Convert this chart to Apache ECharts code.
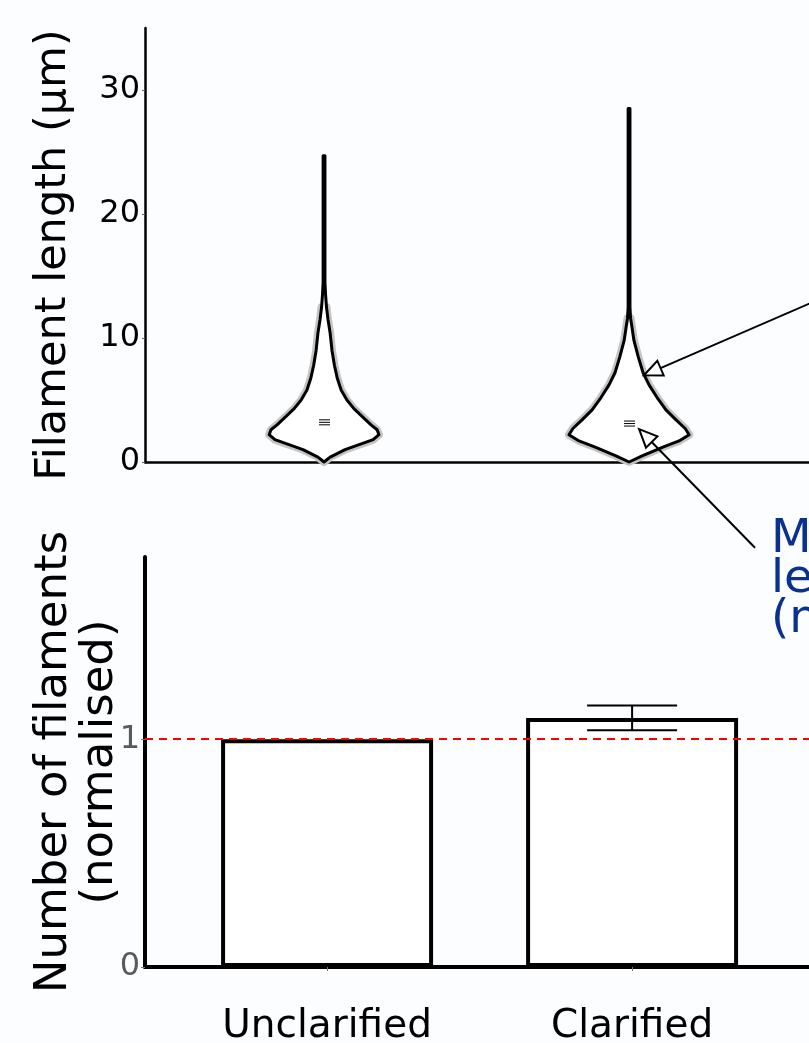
<!DOCTYPE html>
<html><head><meta charset="utf-8">
<script src="https://cdn.jsdelivr.net/npm/echarts@6/dist/echarts.min.js"></script>
<style>html,body{margin:0;padding:0;background:#fcfdff}#c{width:809px;height:1043px}</style>
</head><body><div id="c"></div>
<script>
// ---- data ----
const categories = ['Unclarified', 'Clarified'];
const categoryPos = [1, 2];
const lengthTicks = [0, 10, 20, 30];
const countTicks = [0, 1];
// violin profiles: filament length (µm) and half-width (density, x-axis units)
const violin1Len   = [0, 0.4, 1.0, 1.4, 1.8, 2.2, 2.6, 3.0, 3.6, 4.3, 5.0, 5.8, 6.8, 7.8, 9.0, 10.4, 11.5, 12.5, 13.5, 14.5, 24.7];
const violin1Width = [0, 0.020, 0.069, 0.115, 0.161, 0.180, 0.174, 0.154, 0.128, 0.098, 0.075, 0.056, 0.043, 0.034, 0.026, 0.020, 0.013, 0.008, 0.005, 0.003, 0.003];
const violin2Len   = [0, 0.5, 1.2, 1.7, 2.2, 2.7, 3.4, 4.2, 5.2, 6.2, 7.2, 8.5, 9.8, 10.8, 11.6, 12.5, 28.5];
const violin2Width = [0, 0.043, 0.111, 0.164, 0.197, 0.184, 0.154, 0.121, 0.092, 0.066, 0.046, 0.030, 0.016, 0.010, 0.005, 0.003, 0.003];
const medianLength = [3.2, 3.1];
const barValues = [1.0, 1.093];
const errLow  = [null, 1.039];
const errHigh = [null, 1.148];
const referenceLevel = 1;
// annotation arrows (tail x, tail y, tip x, tip y) in top-chart data coords
const arrows = [[2.659, 13.5, 2.049, 7.0], [2.413, -6.92, 2.033, 2.65]];

const violinLengths = [violin1Len, violin2Len];
const violinWidths = [violin1Width, violin2Width];
const haloMaxLength = [13, 12];
const FONT = 'DejaVu Sans';

function renderViolin(params, api) {
  const i = params.dataIndex;
  const pos = categoryPos[i];
  const lens = violinLengths[i], wid = violinWidths[i];
  const right = lens.map((l, k) => api.coord([pos + wid[k], l]));
  const left = lens.map((l, k) => api.coord([pos - wid[k], l])).reverse();
  const outline = right.concat(left);
  const hk = lens.map((l, k) => k).filter(k => lens[k] <= haloMaxLength[i]);
  const hr = hk.map(k => api.coord([pos + wid[k], lens[k]]));
  const hl = hk.map(k => api.coord([pos - wid[k], lens[k]])).reverse();
  const c = api.coord([pos, medianLength[i]]);
  const children = [
    {type: 'polygon', shape: {points: hr.concat(hl)}, style: {fill: 'none', stroke: '#c4c4c4', lineWidth: 8, lineJoin: 'round'}},
    {type: 'polygon', shape: {points: outline}, style: {fill: '#fff', stroke: '#000', lineWidth: 3, lineJoin: 'round'}}
  ];
  [-2.5, 0, 2.5].forEach(d => children.push({
    type: 'line', shape: {x1: c[0] - 5, y1: c[1] + d, x2: c[0] + 6, y2: c[1] + d},
    style: {stroke: '#000', lineWidth: 1}
  }));
  return {type: 'group', children};
}

function renderError(params, api) {
  const x = api.value(0);
  const lo = api.coord([x, api.value(1)]);
  const hi = api.coord([x, api.value(2)]);
  const w = 45;
  return {type: 'group', children: [
    {type: 'line', shape: {x1: lo[0], y1: lo[1], x2: hi[0], y2: hi[1]}, style: {stroke: '#000', lineWidth: 2}},
    {type: 'line', shape: {x1: lo[0] - w, y1: lo[1], x2: lo[0] + w, y2: lo[1]}, style: {stroke: '#000', lineWidth: 2}},
    {type: 'line', shape: {x1: hi[0] - w, y1: hi[1], x2: hi[0] + w, y2: hi[1]}, style: {stroke: '#000', lineWidth: 2}}
  ]};
}

function renderArrow(params, api) {
  const a = api.coord([api.value(0), api.value(1)]);
  const b = api.coord([api.value(2), api.value(3)]);
  const dx = b[0] - a[0], dy = b[1] - a[1], L = Math.hypot(dx, dy);
  const ux = dx / L, uy = dy / L, hl = 18, hw = 8;
  const base = [b[0] - ux * hl, b[1] - uy * hl];
  const p1 = [base[0] - uy * hw, base[1] + ux * hw];
  const p2 = [base[0] + uy * hw, base[1] - ux * hw];
  return {type: 'group', children: [
    {type: 'line', shape: {x1: a[0], y1: a[1], x2: base[0], y2: base[1]}, style: {stroke: '#000', lineWidth: 2}},
    {type: 'polygon', shape: {points: [b, p1, p2]}, style: {fill: '#fff', stroke: '#000', lineWidth: 2}}
  ]};
}

const chart = echarts.init(document.getElementById('c'));
chart.setOption({
  backgroundColor: '#fcfdff',
  animation: false,
  grid: [
    {left: 145, top: 28, right: 0, height: 434, outerBoundsMode: 'none'},
    {left: 145, top: 557, right: 0, height: 410, outerBoundsMode: 'none'}
  ],
  xAxis: [
    {gridIndex: 0, type: 'value', min: 0.413, max: 2.590,
      axisLine: {lineStyle: {color: '#000', width: 2.5}}, axisTick: {show: false}, axisLabel: {show: false}, splitLine: {show: false}},
    {gridIndex: 1, type: 'value', min: 0.403, max: 2.580,
      axisLine: {lineStyle: {color: '#000', width: 4}},
      axisTick: {show: true, customValues: categoryPos, length: 4, lineStyle: {color: '#777', width: 1}},
      axisLabel: {customValues: categoryPos, formatter: v => categories[categoryPos.indexOf(v)] || '',
        fontSize: 39, fontFamily: FONT, color: '#000', margin: 40},
      splitLine: {show: false}}
  ],
  yAxis: [
    {gridIndex: 0, type: 'value', min: 0, max: 35,
      axisLine: {show: true, lineStyle: {color: '#000', width: 2.5}},
      axisTick: {show: true, customValues: lengthTicks, length: 3, lineStyle: {color: '#666', width: 1}},
      axisLabel: {customValues: lengthTicks, fontSize: 32, fontFamily: FONT, color: '#000', margin: 5},
      splitLine: {show: false},
      name: 'Filament length (μm)', nameLocation: 'middle', nameRotate: 90, nameGap: 70, nameMoveOverlap: false,
      nameTextStyle: {fontSize: 43, fontFamily: FONT, color: '#000', padding: [0, 20, 0, 0]}},
    {gridIndex: 1, type: 'value', min: 0, max: 1.8,
      axisLine: {show: true, lineStyle: {color: '#000', width: 4}},
      axisTick: {show: true, customValues: countTicks, length: 4, lineStyle: {color: '#777', width: 1}},
      axisLabel: {customValues: countTicks, fontSize: 32, fontFamily: FONT, color: '#5a5a5a', margin: 5},
      splitLine: {show: false},
      name: 'Number of filaments\n(normalised)', nameLocation: 'middle', nameRotate: 90, nameGap: 22, nameMoveOverlap: false,
      nameTextStyle: {fontSize: 45, lineHeight: 46, fontFamily: FONT, color: '#000'}}
  ],
  series: [
    {type: 'custom', xAxisIndex: 0, yAxisIndex: 0, renderItem: renderViolin,
      data: categoryPos.map((p, i) => [p, medianLength[i]]), encode: {x: 0, y: 1}, z: 3},
    {type: 'custom', xAxisIndex: 0, yAxisIndex: 0, renderItem: renderArrow,
      data: arrows, encode: {x: [0, 2], y: [1, 3]}, z: 4, clip: false},
    {type: 'bar', xAxisIndex: 1, yAxisIndex: 1, barWidth: 212,
      data: categoryPos.map((p, i) => [p, barValues[i]]),
      itemStyle: {color: '#fff', borderColor: '#000', borderWidth: 4},
      markLine: {silent: true, symbol: 'none', label: {show: false},
        lineStyle: {color: '#ff0000', type: [8, 6], width: 2},
        data: [{yAxis: referenceLevel}]}},
    {type: 'custom', xAxisIndex: 1, yAxisIndex: 1, renderItem: renderError, z: 5,
      data: categoryPos.map((p, i) => [p, errLow[i], errHigh[i]]).filter(d => d[1] != null),
      encode: {x: 0, y: [1, 2]}}
  ],
  graphic: [
    {type: 'text', left: 771, top: 516, z: 10,
      style: {text: 'Median\nlength\n(nm)', font: '47px "DejaVu Sans"', fill: '#0b318f', lineHeight: 40}}
  ]
});
</script></body></html>
